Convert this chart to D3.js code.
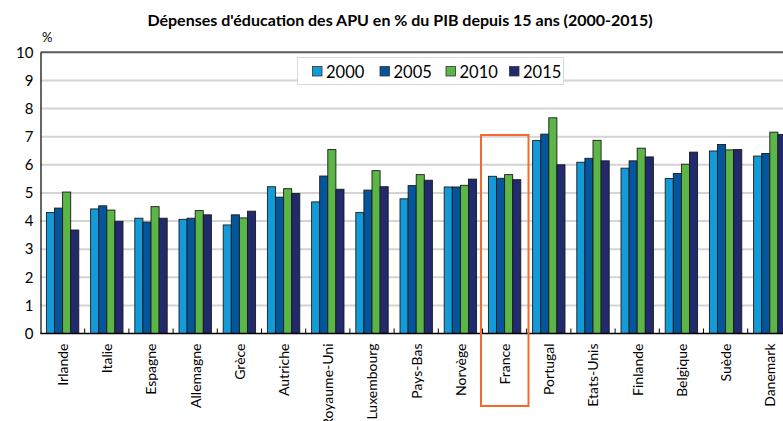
<!DOCTYPE html>
<html>
<head>
<meta charset="utf-8">
<script src="https://cdn.jsdelivr.net/npm/d3@7"></script>
<style>
  html, body { margin: 0; padding: 0; background: #fff; }
  svg { display: block; }
  text { font-family: Lato, "Open Sans", "Liberation Sans", sans-serif; fill: #000; }
</style>
</head>
<body>
<svg id="chart" width="783" height="421"></svg>
<script>
// Public education spending, % of GDP
const countries = ["Irlande", "Italie", "Espagne", "Allemagne", "Grèce", "Autriche", "Royaume-Uni",
  "Luxembourg", "Pays-Bas", "Norvège", "France", "Portugal", "Etats-Unis", "Finlande",
  "Belgique", "Suède", "Danemark"];
const years = ["2000", "2005", "2010", "2015"];
const v2000 = [4.30, 4.43, 4.10, 4.06, 3.86, 5.22, 4.68, 4.30, 4.79, 5.21, 5.59, 6.86, 6.09, 5.88, 5.51, 6.49, 6.31];
const v2005 = [4.46, 4.54, 3.96, 4.10, 4.22, 4.85, 5.60, 5.10, 5.26, 5.21, 5.52, 7.09, 6.23, 6.14, 5.69, 6.72, 6.40];
const v2010 = [5.03, 4.39, 4.51, 4.37, 4.11, 5.15, 6.54, 5.79, 5.65, 5.27, 5.65, 7.67, 6.87, 6.59, 6.02, 6.53, 7.16];
const v2015 = [3.68, 3.99, 4.10, 4.22, 4.35, 4.98, 5.13, 5.22, 5.45, 5.49, 5.47, 6.00, 6.14, 6.28, 6.45, 6.54, 7.08];
const yTicks = [0, 1, 2, 3, 4, 5, 6, 7, 8, 9, 10];
const seriesValues = [v2000, v2005, v2010, v2015];
const colors = ["#139bd9", "#03559c", "#5bb547", "#212a6c"];
const highlighted = "France";

const svg = d3.select("#chart");
const x0 = d3.scaleBand().domain(countries).range([40.5, 40.5 + 17 * 44.2]).padding(0);
const x1 = d3.scaleBand().domain(years).range([0, x0.bandwidth()]).paddingInner(0).paddingOuter(0.73);
const y = d3.scaleLinear().domain([0, 10]).range([333.5, 52.3]);

// Horizontal gridlines
svg.append("g").selectAll("line").data(yTicks.filter(d => d > 0 && d < 10)).join("line")
  .attr("x1", 40.5).attr("x2", 800)
  .attr("y1", d => y(d)).attr("y2", d => y(d))
  .attr("stroke", "#d4d4d4").attr("stroke-width", 2);

// Top border at 10
svg.append("line").attr("x1", 40.5).attr("x2", 800)
  .attr("y1", y(10)).attr("y2", y(10))
  .attr("stroke", "#5a5a5a").attr("stroke-width", 2);

// Y axis labels
const yAxis = d3.axisLeft(y).tickValues(yTicks).tickSize(0).tickPadding(7).tickFormat(d3.format("d"));
const gy = svg.append("g").attr("transform", "translate(40.5,0)").call(yAxis);
gy.select(".domain").attr("stroke", "#000").attr("stroke-width", 1.2);
gy.selectAll("text").style("font-size", "15px").style("font-family", "Lato, sans-serif").attr("fill", "#000");

svg.append("text").attr("x", 42).attr("y", 42).style("font-size", "13px").text("%");

// Legend
const legend = svg.append("g");
legend.append("rect").attr("x", 297.5).attr("y", 57.5).attr("width", 266).attr("height", 27)
  .attr("fill", "#fff").attr("stroke", "#d9d9d9").attr("stroke-width", 1);
const legendX = [312.5, 380, 446, 509.5];
years.forEach((yr, i) => {
  legend.append("rect").attr("x", legendX[i]).attr("y", 66.5).attr("width", 9.5).attr("height", 9.5)
    .attr("fill", colors[i]).attr("stroke", "#333").attr("stroke-width", 0.8);
  legend.append("text").attr("x", legendX[i] + 13.5).attr("y", 77.5)
    .style("font-size", "16.5px").text(yr);
});

// Bars
const groups = svg.append("g").selectAll("g").data(countries).join("g")
  .attr("transform", d => `translate(${x0(d)},0)`);
groups.selectAll("rect")
  .data((c, ci) => years.map((yr, si) => ({ yr, si, v: seriesValues[si][ci] })))
  .join("rect")
  .attr("x", d => x1(d.yr))
  .attr("y", d => y(d.v))
  .attr("width", x1.bandwidth())
  .attr("height", d => y(0) - y(d.v))
  .attr("fill", d => colors[d.si])
  .attr("stroke", "#1a1a1a").attr("stroke-width", 0.9);

// Baseline with inner tick marks between groups
svg.append("line").attr("x1", 40.5).attr("x2", 800)
  .attr("y1", y(0)).attr("y2", y(0)).attr("stroke", "#000").attr("stroke-width", 1.5);
svg.append("g").selectAll("line").data(countries.slice(1)).join("line")
  .attr("x1", d => x0(d)).attr("x2", d => x0(d))
  .attr("y1", y(0)).attr("y2", y(0) - 5)
  .attr("stroke", "#000").attr("stroke-width", 1);

// Category labels (rotated)
svg.append("g").selectAll("text").data(countries).join("text")
  .attr("transform", d => `translate(${x0(d) + x0.bandwidth() / 2 + 5.3},343.5) rotate(-90)`)
  .attr("text-anchor", "end")
  .style("font-size", "14px")
  .text(d => d);

// Highlight frame around France
const hx = x0(highlighted);
svg.append("rect").attr("x", hx - 1.5).attr("y", 135).attr("width", 47.5).attr("height", 271)
  .attr("fill", "none").attr("stroke", "#f36a2c").attr("stroke-width", 2);

// Title
svg.append("text").attr("x", 400).attr("y", 26).attr("text-anchor", "middle")
  .style("font-size", "16px").style("font-weight", "bold")
  .text("Dépenses d'éducation des APU en % du PIB depuis 15 ans (2000-2015)");
</script>
</body>
</html>
